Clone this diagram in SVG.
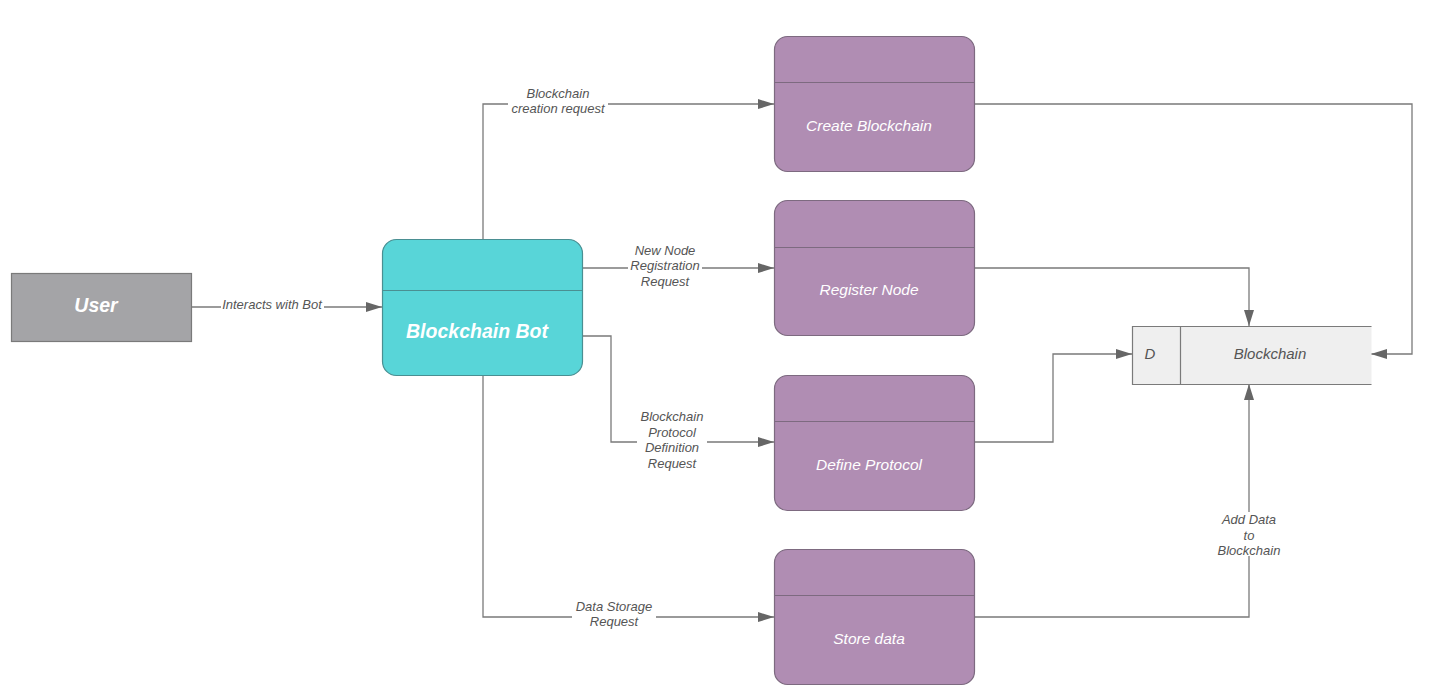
<svg xmlns="http://www.w3.org/2000/svg" width="1436" height="696" viewBox="0 0 1436 696">
<style>
.ln{fill:none;stroke:#7a7a7a;stroke-width:1.3}
.lbl{font-family:"Liberation Sans",Arial,sans-serif;font-style:italic;font-size:13px;fill:#555;text-anchor:middle}
.bg{fill:#fff}
.proc{fill:#b08db3;stroke:#7d6a80;stroke-width:1.2}
.ptxt{font-family:"Liberation Sans",Arial,sans-serif;font-style:italic;font-size:15.5px;fill:#fff;text-anchor:middle}
.big{font-family:"Liberation Sans",Arial,sans-serif;font-style:italic;font-weight:bold;font-size:19.5px;fill:#fff;text-anchor:middle}
</style>
<defs>
<marker id="ah" viewBox="0 0 16 10" refX="16" refY="5" markerWidth="16" markerHeight="10" markerUnits="userSpaceOnUse" orient="auto">
<path d="M0,0 L16,5 L0,10 Z" fill="#666"/>
</marker>
</defs>
<rect width="1436" height="696" fill="#fff"/>
<g id="connectors">
<path class="ln" d="M191,307 H382" marker-end="url(#ah)"/>
<path class="ln" d="M483,239 V104 H774" marker-end="url(#ah)"/>
<path class="ln" d="M582,268 H774" marker-end="url(#ah)"/>
<path class="ln" d="M582,336 H611 V442 H774" marker-end="url(#ah)"/>
<path class="ln" d="M483,375 V617 H774" marker-end="url(#ah)"/>
<path class="ln" d="M974,104 H1412 V354 H1371" marker-end="url(#ah)"/>
<path class="ln" d="M974,268 H1249 V326" marker-end="url(#ah)"/>
<path class="ln" d="M974,442 H1053 V354 H1132" marker-end="url(#ah)"/>
<path class="ln" d="M974,617 H1249 V384" marker-end="url(#ah)"/>
<rect class="bg" x="221" y="298" width="103" height="14"/>
<text class="lbl" x="272" y="309">Interacts with Bot</text>
<rect class="bg" x="508" y="87" width="100" height="28"/>
<text class="lbl" x="558" y="98">Blockchain</text>
<text class="lbl" x="558" y="113">creation request</text>
<rect class="bg" x="628" y="243" width="74" height="44"/>
<text class="lbl" x="665" y="255">New Node</text>
<text class="lbl" x="665" y="270">Registration</text>
<text class="lbl" x="665" y="286">Request</text>
<rect class="bg" x="637" y="409" width="70" height="62"/>
<text class="lbl" x="672" y="421">Blockchain</text>
<text class="lbl" x="672" y="437">Protocol</text>
<text class="lbl" x="672" y="452">Definition</text>
<text class="lbl" x="672" y="468">Request</text>
<rect class="bg" x="572" y="600" width="84" height="28"/>
<text class="lbl" x="614" y="611">Data Storage</text>
<text class="lbl" x="614" y="626">Request</text>
<rect class="bg" x="1213" y="512" width="72" height="44"/>
<text class="lbl" x="1249" y="524">Add Data</text>
<text class="lbl" x="1249" y="540">to</text>
<text class="lbl" x="1249" y="555">Blockchain</text>
</g>
<g id="user">
<rect x="11.5" y="273.5" width="180" height="68" fill="#a4a4a7" stroke="#7a7a7a" stroke-width="1.2"/>
<text class="big" x="96" y="312">User</text>
</g>
<g id="bot">
<rect x="382.5" y="239.5" width="200" height="136" rx="14" fill="#58d5d8" stroke="#4a8f92" stroke-width="1.2"/>
<line x1="382.5" y1="290.5" x2="582.5" y2="290.5" stroke="#4a8f92" stroke-width="1.2"/>
<text class="big" x="477" y="338">Blockchain Bot</text>
</g>
<g id="create">
<rect class="proc" x="774.5" y="36.5" width="200" height="135" rx="13"/>
<line x1="774.5" y1="82.5" x2="974.5" y2="82.5" stroke="#7d6a80" stroke-width="1.2"/>
<text class="ptxt" x="869" y="131">Create Blockchain</text>
</g>
<g id="register">
<rect class="proc" x="774.5" y="200.5" width="200" height="135" rx="13"/>
<line x1="774.5" y1="247.5" x2="974.5" y2="247.5" stroke="#7d6a80" stroke-width="1.2"/>
<text class="ptxt" x="869" y="295">Register Node</text>
</g>
<g id="define">
<rect class="proc" x="774.5" y="375.5" width="200" height="135" rx="13"/>
<line x1="774.5" y1="421.5" x2="974.5" y2="421.5" stroke="#7d6a80" stroke-width="1.2"/>
<text class="ptxt" x="869" y="470">Define Protocol</text>
</g>
<g id="store">
<rect class="proc" x="774.5" y="549.5" width="200" height="135" rx="13"/>
<line x1="774.5" y1="595.5" x2="974.5" y2="595.5" stroke="#7d6a80" stroke-width="1.2"/>
<text class="ptxt" x="869" y="644">Store data</text>
</g>
<g id="blockchain">
<rect x="1132.5" y="326.5" width="239" height="58" fill="#efefef"/>
<path d="M1371.5,326.5 H1132.5 V384.5 H1371.5 M1180.5,326.5 V384.5" fill="none" stroke="#7a7a7a" stroke-width="1.2"/>
<text class="lbl" x="1150" y="359" style="font-size:15px">D</text>
<text class="lbl" x="1270" y="359" style="font-size:15px">Blockchain</text>
</g>
</svg>
